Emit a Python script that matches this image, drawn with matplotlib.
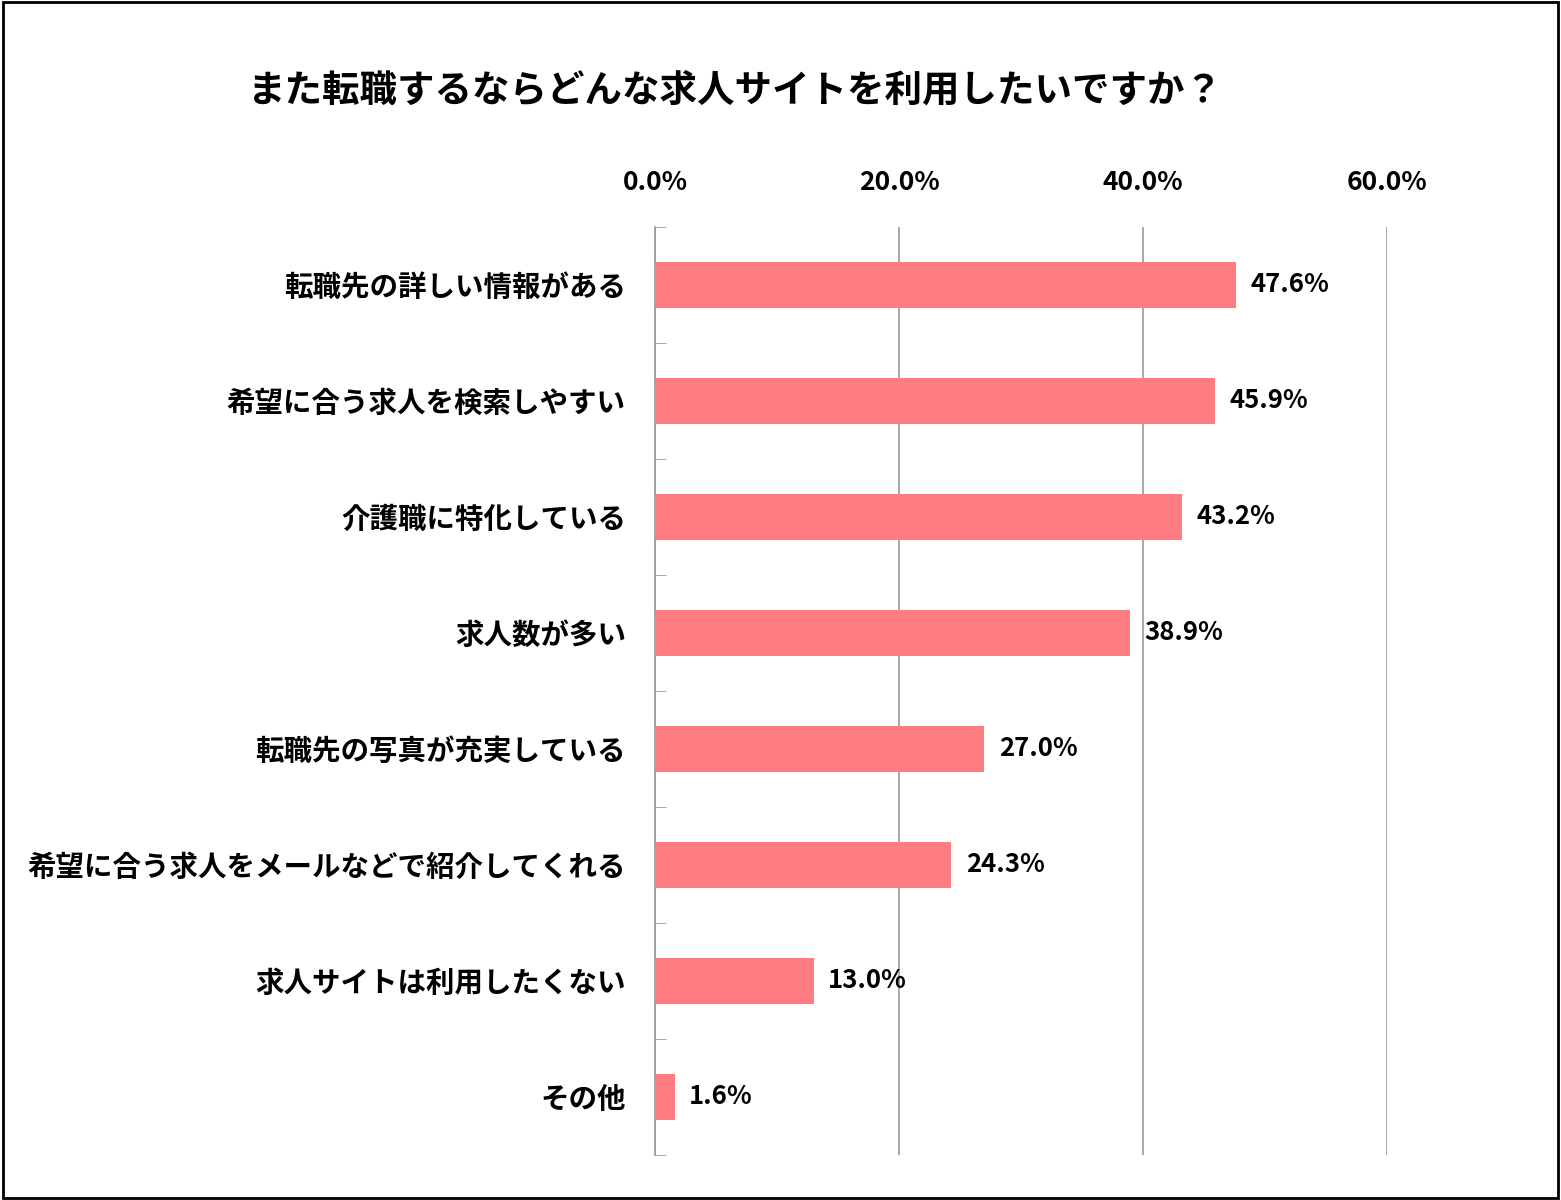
import matplotlib.pyplot as plt
from matplotlib.patches import Rectangle

plt.rcParams['font.family'] = 'Noto Sans CJK JP'

categories = ['転職先の詳しい情報がある', '希望に合う求人を検索しやすい', '介護職に特化している',
              '求人数が多い', '転職先の写真が充実している', '希望に合う求人をメールなどで紹介してくれる',
              '求人サイトは利用したくない', 'その他']
values = [47.6, 45.9, 43.2, 38.9, 27.0, 24.3, 13.0, 1.6]
xticks = [0, 20, 40, 60]

fig = plt.figure(figsize=(15.61, 12), dpi=100)
ax = fig.add_axes([655 / 1561, 45 / 1200, 732 / 1561, 928 / 1200])

n = len(categories)
ypos = list(range(n))
ax.barh(ypos, values, height=0.4, color='#FF7C80', zorder=3)
for y, v in zip(ypos, values):
    ax.text(v + 1.2, y, f'{v:.1f}%', va='center', ha='left', fontsize=18.5, fontweight='bold', zorder=4)

ax.set_ylim(n - 0.5, -0.5)
ax.set_xlim(0, 60)
ax.set_yticks(ypos)
ax.set_yticklabels(categories, fontsize=20.5, fontweight='bold')
ax.set_yticks([i + 0.5 for i in range(n - 1)] + [-0.5, n - 0.5], minor=True)
ax.tick_params(axis='y', which='major', length=0, pad=21)
ax.tick_params(axis='y', which='minor', length=8, direction='in', color='#999999')

ax.xaxis.tick_top()
ax.set_xticks(xticks)
ax.set_xticklabels([f'{t:.1f}%' for t in xticks], fontsize=19, fontweight='bold')
ax.tick_params(axis='x', length=0, pad=22)
ax.grid(axis='x', color='#999999', linewidth=1.2, zorder=0)

for s in ['top', 'right', 'bottom']:
    ax.spines[s].set_visible(False)
ax.spines['left'].set_color('#999999')
ax.spines['left'].set_linewidth(1.2)

fig.text(735 / 1561, 0.925, 'また転職するならどんな求人サイトを利用したいですか？', ha='center', va='center',
         fontsize=27, fontweight='bold')
fig.patches.append(Rectangle((0.002, 0.002), 0.996, 0.996, transform=fig.transFigure,
                             fill=False, edgecolor='black', linewidth=2))

fig.savefig('out.png', dpi=100)
